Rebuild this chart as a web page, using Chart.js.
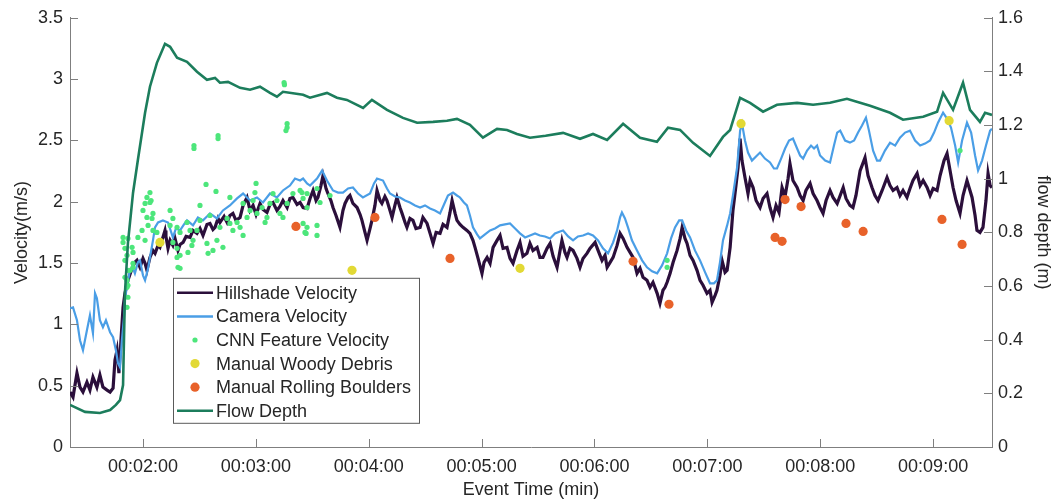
<!DOCTYPE html>
<html>
<head>
<meta charset="utf-8">
<script src="https://cdn.jsdelivr.net/npm/chart.js@4.4.0/dist/chart.umd.min.js"></script>
<style>
  body { margin: 0; background: #fff; }
  #wrap { width: 1053px; height: 499px; position: relative; }
</style>
</head>
<body>
<div id="wrap"><canvas id="flowChart"></canvas></div>
<script>
// time in seconds since event start
const hillshade = [
  [81.2,0.448],[82.8,0.407],[84.9,0.602],[86.5,0.488],[88.1,0.448],[90.2,0.529],[91.8,0.464],[93.4,0.570],[95.5,0.488],[97.1,0.586],
  [98.7,0.488],[100.9,0.464],[102.5,0.448],[104.1,0.480],[105.1,0.708],[106.2,0.789],[107.2,0.602],[108.3,0.871],[109.4,1.139],[110.4,1.253],
  [112.0,1.359],[114.2,1.457],[115.7,1.506],[116.8,1.522],[118.4,1.465],[120.0,1.538],[121.1,1.498],[122.1,1.441],[123.7,1.546],[125.3,1.603],
  [126.4,1.579],[128.0,1.644],[129.0,1.628],[130.1,1.685],[131.7,1.766],[132.2,1.717],[133.3,1.620],[134.4,1.685],[135.9,1.644],[137.0,1.701],
  [138.6,1.603],[139.7,1.652],[141.3,1.668],[142.9,1.717],[145.0,1.709],[146.6,1.766],[148.7,1.742],[150.3,1.782],[151.9,1.725],[154.0,1.815],
  [155.6,1.823],[157.2,1.774],[158.3,1.791],[159.9,1.864],[160.9,1.831],[163.1,1.880],[164.7,1.831],[166.2,1.888],[167.8,1.905],[169.4,1.848],
  [171.6,1.872],[173.2,1.970],[175.3,2.035],[176.9,1.929],[178.5,1.970],[180.1,1.896],[182.2,1.986],[183.8,1.937],[185.9,1.913],[187.5,1.978],
  [189.1,1.994],[191.2,1.929],[192.8,1.962],[194.4,2.010],[196.6,1.953],[198.1,2.027],[199.7,2.035],[201.9,1.978],[203.5,1.994],[205.1,1.953],
  [207.2,1.945],[208.8,2.027],[210.4,2.092],[212.0,2.010],[213.0,2.035],[214.6,2.132],[215.7,2.214],[217.3,2.108],[218.3,2.067],[219.9,2.010],
  [221.0,1.953],[222.6,1.888],[224.7,1.791],[226.3,1.929],[227.4,1.986],[229.0,2.035],[230.0,2.051],[231.6,1.986],[233.8,1.953],[235.4,1.896],
  [236.4,1.848],[238.0,1.750],[239.1,1.685],[240.7,1.782],[241.7,1.848],[243.3,1.970],[244.4,2.092],[246.0,2.010],[247.0,1.986],[248.6,2.043],
  [249.7,2.010],[251.3,1.929],[252.4,1.872],[253.9,1.970],[255.0,2.035],[256.6,1.953],[257.7,1.905],[259.3,1.831],[260.3,1.791],[261.9,1.864],
  [263.5,1.848],[265.1,1.782],[267.3,1.791],[268.8,1.872],[271.0,1.823],[272.6,1.742],[274.2,1.660],[275.8,1.750],[277.9,1.742],[279.5,1.815],
  [281.6,1.791],[283.2,1.913],[284.3,2.010],[285.9,1.905],[286.9,1.848],[288.5,1.815],[290.1,1.791],[292.2,1.766],[293.8,1.742],[295.4,1.685],
  [296.5,1.628],[298.1,1.538],[300.2,1.416],[301.3,1.506],[302.9,1.546],[304.5,1.498],[306.1,1.628],[308.2,1.685],[309.8,1.725],[311.4,1.620],
  [313.5,1.628],[315.1,1.538],[316.7,1.498],[318.8,1.603],[320.4,1.668],[322.0,1.555],[324.1,1.579],[325.7,1.660],[327.3,1.603],[329.5,1.628],
  [331.0,1.546],[332.6,1.546],[334.8,1.620],[336.4,1.660],[338.0,1.555],[340.1,1.465],[341.7,1.603],[342.7,1.685],[344.3,1.587],[345.4,1.546],
  [347.0,1.620],[348.6,1.603],[350.7,1.538],[352.3,1.465],[353.9,1.538],[356.0,1.579],[357.6,1.620],[360.3,1.668],[361.9,1.603],[364.0,1.522],
  [365.6,1.563],[366.7,1.465],[368.3,1.506],[369.9,1.546],[372.0,1.644],[373.6,1.742],[375.2,1.701],[377.3,1.628],[378.9,1.587],[380.5,1.546],
  [382.6,1.416],[384.2,1.457],[385.8,1.384],[387.9,1.359],[389.5,1.302],[391.1,1.343],[393.3,1.253],[394.8,1.172],[396.4,1.278],[397.5,1.302],
  [398.6,1.343],[400.2,1.416],[401.8,1.506],[403.9,1.603],[405.5,1.701],[406.6,1.791],[408.1,1.701],[409.2,1.660],[410.8,1.563],[412.4,1.522],
  [414.5,1.441],[416.1,1.359],[417.7,1.319],[419.8,1.253],[421.4,1.278],[422.5,1.180],[424.1,1.237],[425.1,1.278],[426.7,1.400],[427.8,1.522],
  [429.4,1.424],[430.5,1.441],[432.1,1.628],[433.6,1.929],[435.2,2.132],[436.3,2.279],[437.4,2.515],[438.4,2.336],[440.0,2.198],[441.6,2.067],
  [442.7,2.173],[444.3,2.116],[445.9,2.010],[448.0,1.953],[449.6,2.027],[451.7,2.067],[453.3,1.953],[454.9,1.872],[456.5,1.970],[458.1,1.913],
  [459.7,2.116],[461.3,2.043],[462.9,2.189],[463.9,2.311],[465.5,2.173],[467.7,2.116],[469.3,2.051],[470.9,2.010],[472.4,2.092],[474.6,2.149],
  [476.2,2.067],[478.3,2.010],[479.9,1.953],[481.5,1.905],[483.1,2.010],[485.2,2.092],[486.8,2.035],[489.0,1.986],[490.6,2.051],[492.2,2.116],
  [493.7,2.027],[495.8,1.970],[497.4,1.953],[499.0,2.051],[501.2,2.254],[503.8,2.360],[505.4,2.214],[507.5,2.116],[509.1,2.051],[510.7,2.010],
  [512.9,2.092],[515.5,2.198],[517.1,2.132],[518.7,2.092],[520.8,2.116],[522.4,2.051],[524.0,2.092],[526.1,2.035],[527.7,2.108],[529.3,2.173],
  [531.5,2.230],[533.1,2.132],[534.7,2.173],[536.8,2.116],[538.4,2.051],[540.0,2.108],[542.1,2.092],[543.7,2.214],[545.8,2.336],[547.4,2.393],
  [549.0,2.254],[550.6,2.116],[552.2,2.010],[554.3,1.905],[555.9,2.051],[558.0,2.173],[559.6,2.092],[560.7,2.035],[562.3,1.888],[563.3,1.766],
  [564.9,1.750],[566.5,1.791],[568.1,2.010],[569.2,2.230],[570.3,2.132],[571.3,2.116]
];

const camera = [
  [81.2,1.131],[82.8,1.139],[84.9,1.034],[86.5,0.871],[88.1,0.789],[90.2,0.952],[91.8,1.074],[93.4,0.928],[94.5,1.253],[95.5,1.213],
  [97.1,1.034],[98.7,0.977],[100.3,1.034],[102.5,0.936],[104.1,0.895],[105.6,0.789],[106.7,0.684],[107.8,0.651],[108.8,0.871],[109.9,1.058],
  [110.4,1.196],[111.5,1.319],[113.1,1.441],[114.7,1.457],[115.7,1.416],[117.3,1.506],[118.4,1.522],[120.0,1.400],[121.1,1.359],[122.7,1.457],
  [123.7,1.546],[125.3,1.685],[126.4,1.791],[128.0,1.831],[130.6,1.848],[133.3,1.831],[135.9,1.709],[137.5,1.782],[139.7,1.766],[141.8,1.815],
  [143.4,1.848],[146.6,1.807],[149.2,1.872],[151.9,1.848],[154.0,1.880],[155.6,1.905],[159.3,1.864],[162.5,1.929],[166.2,1.970],[170.0,2.027],
  [173.2,2.067],[176.9,2.010],[180.6,2.035],[183.8,1.994],[187.5,2.067],[191.2,2.035],[194.4,2.092],[198.1,2.132],[200.8,2.189],[203.5,2.173],
  [205.1,2.189],[207.2,2.149],[208.8,2.132],[212.5,2.189],[215.2,2.254],[217.8,2.173],[221.0,2.092],[223.7,2.075],[226.3,2.075],[229.0,2.108],
  [231.6,2.116],[234.3,2.067],[236.9,2.035],[240.7,2.067],[242.8,2.149],[244.4,2.189],[247.6,2.173],[249.7,2.108],[251.3,2.067],[254.0,2.043],
  [256.6,2.035],[259.3,2.010],[261.9,1.994],[264.6,1.970],[267.3,1.953],[269.9,1.970],[272.6,1.945],[275.2,1.929],[277.9,1.905],[280.0,1.978],
  [282.1,2.051],[284.8,2.075],[286.9,2.051],[288.5,2.035],[290.6,1.994],[292.2,1.970],[293.8,1.888],[295.4,1.791],[297.6,1.734],[299.1,1.701],
  [301.8,1.734],[304.5,1.766],[307.1,1.782],[309.8,1.807],[312.4,1.815],[315.1,1.823],[317.8,1.782],[320.4,1.742],[323.1,1.709],[325.7,1.725],
  [328.4,1.742],[331.0,1.725],[333.7,1.717],[336.4,1.701],[339.0,1.742],[341.7,1.758],[343.3,1.766],[346.0,1.717],[348.6,1.685],[351.2,1.717],
  [353.9,1.725],[356.6,1.742],[359.2,1.725],[361.9,1.685],[364.5,1.620],[367.2,1.579],[369.9,1.668],[372.0,1.766],[373.6,1.872],[374.6,1.913],
  [376.2,1.864],[377.8,1.791],[379.9,1.685],[382.6,1.603],[385.3,1.522],[387.9,1.465],[390.6,1.432],[393.3,1.416],[395.9,1.481],[398.6,1.579],
  [400.7,1.701],[402.8,1.791],[405.0,1.848],[406.6,1.848],[408.7,1.766],[410.8,1.709],[413.4,1.603],[416.1,1.522],[418.8,1.424],[421.4,1.335],
  [423.5,1.335],[425.1,1.359],[426.7,1.506],[428.3,1.685],[430.5,1.807],[432.1,1.905],[433.6,2.051],[435.8,2.279],[437.4,2.580],[438.4,2.637],
  [440.0,2.499],[441.6,2.401],[443.7,2.336],[446.4,2.377],[448.0,2.401],[450.6,2.352],[453.3,2.320],[455.4,2.271],[457.0,2.271],[459.2,2.352],
  [461.3,2.434],[463.4,2.499],[465.5,2.515],[467.7,2.434],[469.3,2.377],[470.9,2.352],[473.0,2.417],[475.1,2.458],[476.7,2.434],[478.3,2.458],
  [479.9,2.377],[482.6,2.336],[485.2,2.320],[487.3,2.458],[489.0,2.564],[490.6,2.580],[493.2,2.499],[495.8,2.482],[498.0,2.499],[500.1,2.564],
  [502.2,2.621],[504.3,2.686],[505.9,2.580],[508.1,2.417],[510.2,2.336],[511.8,2.336],[514.4,2.417],[517.1,2.482],[519.8,2.458],[522.4,2.523],
  [525.1,2.564],[527.7,2.580],[530.4,2.499],[533.1,2.458],[535.7,2.474],[538.4,2.499],[540.5,2.564],[542.6,2.645],[545.3,2.727],[547.4,2.678],
  [549.5,2.605],[551.7,2.458],[553.3,2.320],[555.4,2.499],[558.0,2.645],[560.2,2.564],[562.3,2.377],[563.9,2.255],[566.0,2.336],[568.1,2.458],
  [570.3,2.580],[571.3,2.596]
];

const cnnFeature = [
  [123.7,2.075],[124.3,2.010],[121.1,1.986],[120.0,1.929],[122.1,1.872],[124.8,1.864],[122.7,1.807],[119.5,1.766],[125.3,1.766],[127.4,1.750],
  [117.3,1.709],[121.1,1.685],[112.0,1.701],[109.4,1.668],[110.4,1.620],[111.5,1.563],[114.2,1.628],[114.7,1.587],[112.0,1.441],[110.4,1.384],
  [111.5,1.302],[112.0,1.221],[111.5,1.139],[110.4,1.522],[109.4,1.709],[134.4,1.929],[135.9,1.864],[134.4,1.807],[138.1,1.791],[139.7,1.750],
  [135.9,1.668],[138.1,1.620],[138.1,1.546],[139.7,1.457],[138.6,1.465],[143.4,1.831],[145.0,1.766],[146.6,1.685],[146.0,1.644],[143.9,1.587],
  [148.7,1.766],[150.3,1.848],[150.3,1.970],[153.5,2.141],[158.8,2.084],[155.6,1.888],[154.0,1.660],[154.6,1.579],[159.3,1.685],[157.2,1.603],
  [162.5,1.628],[160.9,1.791],[164.7,1.864],[166.2,1.823],[167.8,1.766],[170.0,1.831],[171.6,1.791],[173.2,1.725],[175.3,1.872],[176.9,1.929],
  [178.5,2.010],[180.1,2.149],[180.6,1.905],[183.3,1.953],[185.9,1.872],[187.5,1.986],[191.2,2.010],[194.4,1.872],[196.6,1.986],[199.7,2.067],
  [203.5,2.092],[205.1,2.027],[207.2,1.953],[207.2,1.791],[206.1,1.750],[184.9,1.831],[166.2,2.035],[173.2,1.986],[179.5,2.075],[192.8,1.905],
  [189.1,2.067],[204.5,2.075],[207.2,2.067],[205.1,1.823],[206.7,1.742],[212.5,1.807],[212.5,1.725],[214.1,1.994],[219.4,2.051],[212.5,2.108],
  [114.7,1.498],[114.7,1.465],[113.1,1.441],[112.0,1.319],[139.7,1.563],[111.5,1.359],[122.1,2.035],[125.3,1.905],[123.7,1.994],
  [195.0,2.971],[195.2,2.955],[196.6,2.637],[196.6,2.605],[196.0,2.580],[159.9,2.539],[159.9,2.515],[147.1,2.458],[147.1,2.434],
  [398.6,1.522],[398.6,1.465],[554.3,2.417]
];

const woodyDebris = [[129.0,1.668],[231.1,1.441],[320.4,1.457],[437.9,2.637],[548.5,2.661]];

const rollingBoulders = [
  [201.3,1.799],[243.3,1.872],[283.2,1.538],[380.5,1.514],[399.6,1.164],[456.0,1.709],[459.7,1.677],
  [461.3,2.018],[469.8,1.961],[493.7,1.823],[502.8,1.758],[544.7,1.856],[555.4,1.652]
];

const flowDepth = [
  [81.2,0.157],[89.2,0.131],[97.1,0.127],[102.5,0.138],[105.6,0.157],[107.8,0.175],[109.4,0.231],[110.4,0.574],[112.0,0.761],[114.7,0.947],
  [117.3,1.071],[121.1,1.246],[123.7,1.343],[127.4,1.432],[131.7,1.503],[134.4,1.492],[138.1,1.451],[143.4,1.436],[148.7,1.399],[154.0,1.369],
  [158.3,1.376],[160.9,1.358],[165.2,1.361],[171.6,1.339],[176.9,1.332],[182.2,1.343],[187.5,1.320],[191.2,1.306],[194.4,1.324],[205.1,1.313],
  [208.8,1.302],[217.8,1.320],[223.1,1.302],[228.4,1.294],[237.0,1.264],[241.7,1.294],[249.7,1.257],[258.2,1.227],[265.7,1.209],[274.2,1.212],
  [281.6,1.216],[286.9,1.223],[293.8,1.201],[300.7,1.153],[308.2,1.186],[313.5,1.182],[318.8,1.167],[325.7,1.153],[334.0,1.160],[343.3,1.171],
  [352.3,1.149],[359.2,1.167],[366.7,1.145],[375.2,1.205],[384.2,1.153],[393.2,1.138],[399.1,1.190],[405.5,1.182],[412.4,1.134],[421.4,1.085],
  [428.3,1.156],[432.1,1.182],[437.4,1.302],[442.7,1.283],[449.6,1.250],[457.0,1.276],[467.7,1.283],[476.2,1.276],[485.2,1.283],[494.2,1.298],
  [501.2,1.283],[506.5,1.272],[517.1,1.246],[524.0,1.220],[534.7,1.231],[542.1,1.250],[545.3,1.320],[550.6,1.257],[555.9,1.358],[559.6,1.257],
  [564.9,1.212],[567.6,1.246],[571.3,1.238]
];

const timeTicks = [120, 180, 240, 300, 360, 420, 480, 540];
const timeRange = [81.2, 571.3];

function toPoints(list) {
    return list.map(function (p) { return {x: p[0], y: p[1]}; });
}

function formatTime(sec) {
    let m = Math.floor(sec / 60);
    let s = Math.round(sec % 60);
    return '00:' + String(m).padStart(2, '0') + ':' + String(s).padStart(2, '0');
}

function plainNumber(value) {
    return String(parseFloat(value.toFixed(2)));
}

const fontFamily = '"Liberation Sans", Arial, Helvetica, sans-serif';
const textColor = '#262626';
const axisColor = '#7f7f7f';

// matlab style ticks pointing into the plot
const inwardTicks = {
    id: 'inwardTicks',
    afterDraw(chart) {
        const {ctx, chartArea, scales} = chart;
        const len = 8;
        ctx.save();
        ctx.strokeStyle = axisColor;
        ctx.lineWidth = 1;
        ctx.beginPath();
        scales.x.ticks.forEach(function (t) {
            let px = Math.round(scales.x.getPixelForValue(t.value)) + 0.5;
            ctx.moveTo(px, chartArea.bottom);
            ctx.lineTo(px, chartArea.bottom - len);
        });
        scales.y.ticks.forEach(function (t) {
            let py = Math.round(scales.y.getPixelForValue(t.value)) + 0.5;
            ctx.moveTo(chartArea.left, py);
            ctx.lineTo(chartArea.left + len, py);
        });
        scales.y1.ticks.forEach(function (t) {
            let py = Math.round(scales.y1.getPixelForValue(t.value)) + 0.5;
            ctx.moveTo(chartArea.right, py);
            ctx.lineTo(chartArea.right - len, py);
        });
        ctx.stroke();
        ctx.restore();
    }
};

// boxed legend sitting inside the plot area
const boxLegend = {
    id: 'boxLegend',
    afterDraw(chart) {
        const {ctx, chartArea} = chart;
        const left = chartArea.left + 103;
        const top = chartArea.top + 260;
        const w = 246, h = 145, row = 23.6;
        ctx.save();
        ctx.fillStyle = '#ffffff';
        ctx.fillRect(left, top, w, h);
        ctx.strokeStyle = '#5a5a5a';
        ctx.lineWidth = 1;
        ctx.strokeRect(left + 0.5, top + 0.5, w, h);
        ctx.font = '18px ' + fontFamily;
        ctx.textBaseline = 'middle';
        chart.data.datasets.forEach(function (ds, i) {
            let y = top + 15 + i * row;
            if (ds.type === 'scatter') {
                ctx.fillStyle = ds.backgroundColor;
                ctx.beginPath();
                ctx.arc(left + 22, y, ds.pointRadius, 0, Math.PI * 2);
                ctx.fill();
            } else {
                ctx.strokeStyle = ds.borderColor;
                ctx.lineWidth = 2.5;
                ctx.beginPath();
                ctx.moveTo(left + 4, y);
                ctx.lineTo(left + 40, y);
                ctx.stroke();
            }
            ctx.fillStyle = textColor;
            ctx.fillText(ds.label, left + 43, y + 1);
        });
        ctx.restore();
    }
};

const tickFont = {family: fontFamily, size: 18};
const titleFont = {family: fontFamily, size: 18, lineHeight: 1};

let myChart = new Chart(document.getElementById('flowChart'), {
    type: 'line',
    data: {
        datasets: [{
            label: 'Hillshade Velocity',
            data: toPoints(hillshade),
            borderColor: '#2b0f3b',
            borderWidth: 3.2,
            pointRadius: 0,
            tension: 0,
            yAxisID: 'y',
            order: 5
        }, {
            label: 'Camera Velocity',
            data: toPoints(camera),
            borderColor: '#4a9ee6',
            borderWidth: 2.2,
            pointRadius: 0,
            tension: 0,
            yAxisID: 'y',
            order: 4
        }, {
            type: 'scatter',
            label: 'CNN Feature Velocity',
            data: toPoints(cnnFeature),
            backgroundColor: '#4de67b',
            borderWidth: 0,
            pointRadius: 2.6,
            yAxisID: 'y',
            order: 3
        }, {
            type: 'scatter',
            label: 'Manual Woody Debris',
            data: toPoints(woodyDebris),
            backgroundColor: '#e2d935',
            borderWidth: 0,
            pointRadius: 4.6,
            yAxisID: 'y',
            order: 2
        }, {
            type: 'scatter',
            label: 'Manual Rolling Boulders',
            data: toPoints(rollingBoulders),
            backgroundColor: '#e8622a',
            borderWidth: 0,
            pointRadius: 4.6,
            yAxisID: 'y',
            order: 1
        }, {
            label: 'Flow Depth',
            data: toPoints(flowDepth),
            borderColor: '#1c7d5c',
            borderWidth: 2.6,
            pointRadius: 0,
            tension: 0,
            yAxisID: 'y1',
            order: 0
        }]
    },
    options: {
        responsive: true,
        maintainAspectRatio: false,
        animation: false,
        layout: {padding: {top: 17, left: 0, right: 0, bottom: 0}},
        plugins: {
            legend: {display: false},
            tooltip: {enabled: false}
        },
        scales: {
            x: {
                type: 'linear',
                min: timeRange[0],
                max: timeRange[1],
                afterBuildTicks: function (scale) {
                    scale.ticks = timeTicks.map(function (v) { return {value: v}; });
                },
                afterFit: function (scale) { scale.height = 52; },
                grid: {display: false, drawTicks: false},
                border: {display: true, color: axisColor, width: 1},
                ticks: {
                    font: tickFont,
                    color: textColor,
                    padding: 9,
                    maxRotation: 0,
                    callback: function (value) { return formatTime(value); }
                },
                title: {
                    display: true,
                    text: 'Event Time (min)',
                    font: titleFont,
                    color: textColor,
                    padding: {top: 0, bottom: 0}
                }
            },
            y: {
                position: 'left',
                min: 0,
                max: 3.5,
                afterFit: function (scale) { scale.width = 70; },
                grid: {display: false, drawTicks: false},
                border: {display: true, color: axisColor, width: 1},
                ticks: {stepSize: 0.5, font: tickFont, color: textColor, padding: 7, callback: plainNumber},
                title: {
                    display: true,
                    text: 'Velocity(m/s)',
                    font: titleFont,
                    color: textColor,
                    padding: {top: 13, bottom: 0}
                }
            },
            y1: {
                position: 'right',
                min: 0,
                max: 1.6,
                afterFit: function (scale) { scale.width = 61; },
                grid: {display: false, drawTicks: false},
                border: {display: true, color: axisColor, width: 1},
                ticks: {stepSize: 0.2, font: tickFont, color: textColor, padding: 6, callback: plainNumber},
                title: {
                    display: true,
                    text: 'flow depth (m)',
                    font: titleFont,
                    color: textColor,
                    padding: {top: 1, bottom: 0}
                }
            }
        }
    },
    plugins: [inwardTicks, boxLegend]
});
</script>
</body>
</html>
